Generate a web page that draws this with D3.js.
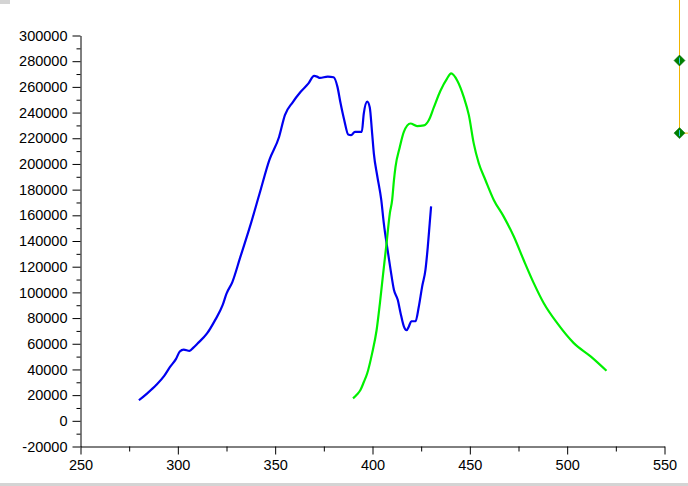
<!DOCTYPE html>
<html>
<head>
<meta charset="utf-8">
<script src="https://cdn.jsdelivr.net/npm/d3@7"></script>
<style>
  html, body { margin: 0; padding: 0; background: #fff; }
  svg { display: block; }
</style>
</head>
<body>
<svg id="chart"></svg>
<script>
// spectra
const blueX = [280, 284, 289, 293, 296, 299, 301, 303, 306, 308, 310, 315, 319, 323, 325, 328,
  332, 337, 342, 347, 352, 355, 359, 363, 367, 370, 371.5, 373, 377, 380, 382, 383.5, 385.5,
  387.5, 389, 391, 394.5, 395.5, 397.3, 398.6, 399.8, 400.7, 402.4, 404.5, 405.8, 407.5, 409.3,
  411, 413, 414.4, 416.1, 417.5, 418.7, 419.9, 422.1, 423.8, 425.5, 427.2, 428.4, 429.4, 430.1];
const blueY = [16000, 21000, 28000, 35000, 42000, 48000, 54000, 55500, 54500, 57000, 60000, 68000,
  78000, 90000, 99000, 108000, 127000, 151000, 177000, 203000, 221000, 238000, 248000, 256000,
  262500, 268500, 268000, 267000, 268000, 267500, 260000, 248000, 234000, 223000, 222500, 225000,
  225000, 239000, 248500, 244000, 224000, 208000, 191000, 172000, 154000, 135500, 117500, 102000,
  94000, 84000, 73500, 70500, 73500, 77500, 77500, 89000, 104500, 117500, 135500, 154000, 167000];

const greenX = [390, 392, 393.8, 395.5, 397.3, 399.8, 402.1, 403.8, 405.5, 407.2, 408.9, 410.1, 411,
  411.8, 414, 416.1, 419.5, 422.9, 426.4, 428.9, 431.5, 434.9, 438.3, 440.4, 443.5, 446.9, 449.5,
  452, 454.6, 458, 462.3, 467.4, 472.6, 477.7, 482.9, 488, 494.9, 503.4, 512.2, 520.2];
const greenY = [17500, 20500, 24000, 30000, 37000, 52500, 70500, 91500, 115000, 138000, 161500,
  172000, 187000, 197500, 213000, 225000, 231500, 229500, 230000, 234000, 244000, 257000, 266500,
  270500, 265000, 252000, 238000, 216000, 200500, 187500, 172000, 159000, 143500, 125000, 107000,
  91500, 76000, 60500, 50000, 39000];

const xTicks = [250, 300, 350, 400, 450, 500, 550];
const yTicks = [-20000, 0, 20000, 40000, 60000, 80000, 100000, 120000, 140000, 160000, 180000,
  200000, 220000, 240000, 260000, 280000, 300000];
// the two cursor markers on the right edge
const markerY = [280500, 224000];

const W = 688, H = 486;
const svg = d3.select("#chart").attr("width", W).attr("height", H);

const x = d3.scaleLinear().domain([250, 550]).range([80.5, 664.5]);
const y = d3.scaleLinear().domain([-20000, 300000]).range([446.5, 35.5]);

const font = "'Liberation Sans', Arial, sans-serif";

// minor ticks
const xMinor = d3.range(275, 550, 50);
const yMinor = d3.range(-10000, 300000, 20000);

svg.append("g")
  .attr("transform", "translate(0,446.5)")
  .call(d3.axisBottom(x).tickValues(xMinor).tickSize(5).tickFormat(""))
  .call(g => g.select(".domain").remove());
svg.append("g")
  .attr("transform", "translate(80.5,0)")
  .call(d3.axisLeft(y).tickValues(yMinor).tickSize(4).tickFormat(""))
  .call(g => g.select(".domain").remove());

// main axes (plain hyphen for negatives, like the original)
svg.append("g")
  .attr("transform", "translate(0,446.5)")
  .call(d3.axisBottom(x).tickValues(xTicks).tickSize(8).tickSizeOuter(0).tickPadding(5).tickFormat(d => String(d)))
  .call(g => g.selectAll("text").style("font-size", "14.5px").style("font-family", font).attr("fill", "#000"));

svg.append("g")
  .attr("transform", "translate(80.5,0)")
  .call(d3.axisLeft(y).tickValues(yTicks).tickSize(8).tickSizeOuter(0).tickPadding(5).tickFormat(d => String(d)))
  .call(g => g.selectAll("text").style("font-size", "14.5px").style("font-family", font).attr("fill", "#000"));

svg.selectAll(".domain, .tick line").attr("stroke", "#000");

const line = d3.line().x(d => x(d[0])).y(d => y(d[1])).curve(d3.curveMonotoneX);

svg.append("path")
  .attr("d", line(d3.zip(blueX, blueY)))
  .attr("fill", "none")
  .attr("stroke", "#0000f0")
  .attr("stroke-width", 2.2)
  .attr("stroke-linejoin", "round");

svg.append("path")
  .attr("d", line(d3.zip(greenX, greenY)))
  .attr("fill", "none")
  .attr("stroke", "#00f000")
  .attr("stroke-width", 2.2)
  .attr("stroke-linejoin", "round");

// right-hand cursor
const cx = 679.5;
svg.append("line")
  .attr("x1", cx).attr("x2", cx)
  .attr("y1", 0).attr("y2", y(markerY[1]))
  .attr("stroke", "#f0b400").attr("stroke-width", 1);
svg.append("line")
  .attr("x1", cx).attr("x2", W)
  .attr("y1", y(markerY[1])).attr("y2", y(markerY[1]))
  .attr("stroke", "#f0b400").attr("stroke-width", 1);
svg.selectAll("path.marker")
  .data(markerY)
  .enter()
  .append("path")
  .attr("class", "marker")
  .attr("d", d => `M${cx},${y(d) - 5.5}L${cx + 5.5},${y(d)}L${cx},${y(d) + 5.5}L${cx - 5.5},${y(d)}Z`)
  .attr("fill", "#008000")
  .attr("stroke", "#006400")
  .attr("stroke-width", 0.5);
svg.selectAll("line.mk")
  .data(markerY)
  .enter()
  .append("line")
  .attr("class", "mk")
  .attr("x1", cx).attr("x2", cx)
  .attr("y1", d => y(d) - 3).attr("y2", d => y(d) + 3)
  .attr("stroke", "#33ccee").attr("stroke-width", 1);

// window chrome bits
svg.append("rect").attr("x", 0).attr("y", 0).attr("width", 10).attr("height", 4).attr("fill", "#d4d4d4");
svg.append("rect").attr("x", 0).attr("y", 483).attr("width", W).attr("height", 3).attr("fill", "#d4d4d4");
</script>
</body>
</html>
